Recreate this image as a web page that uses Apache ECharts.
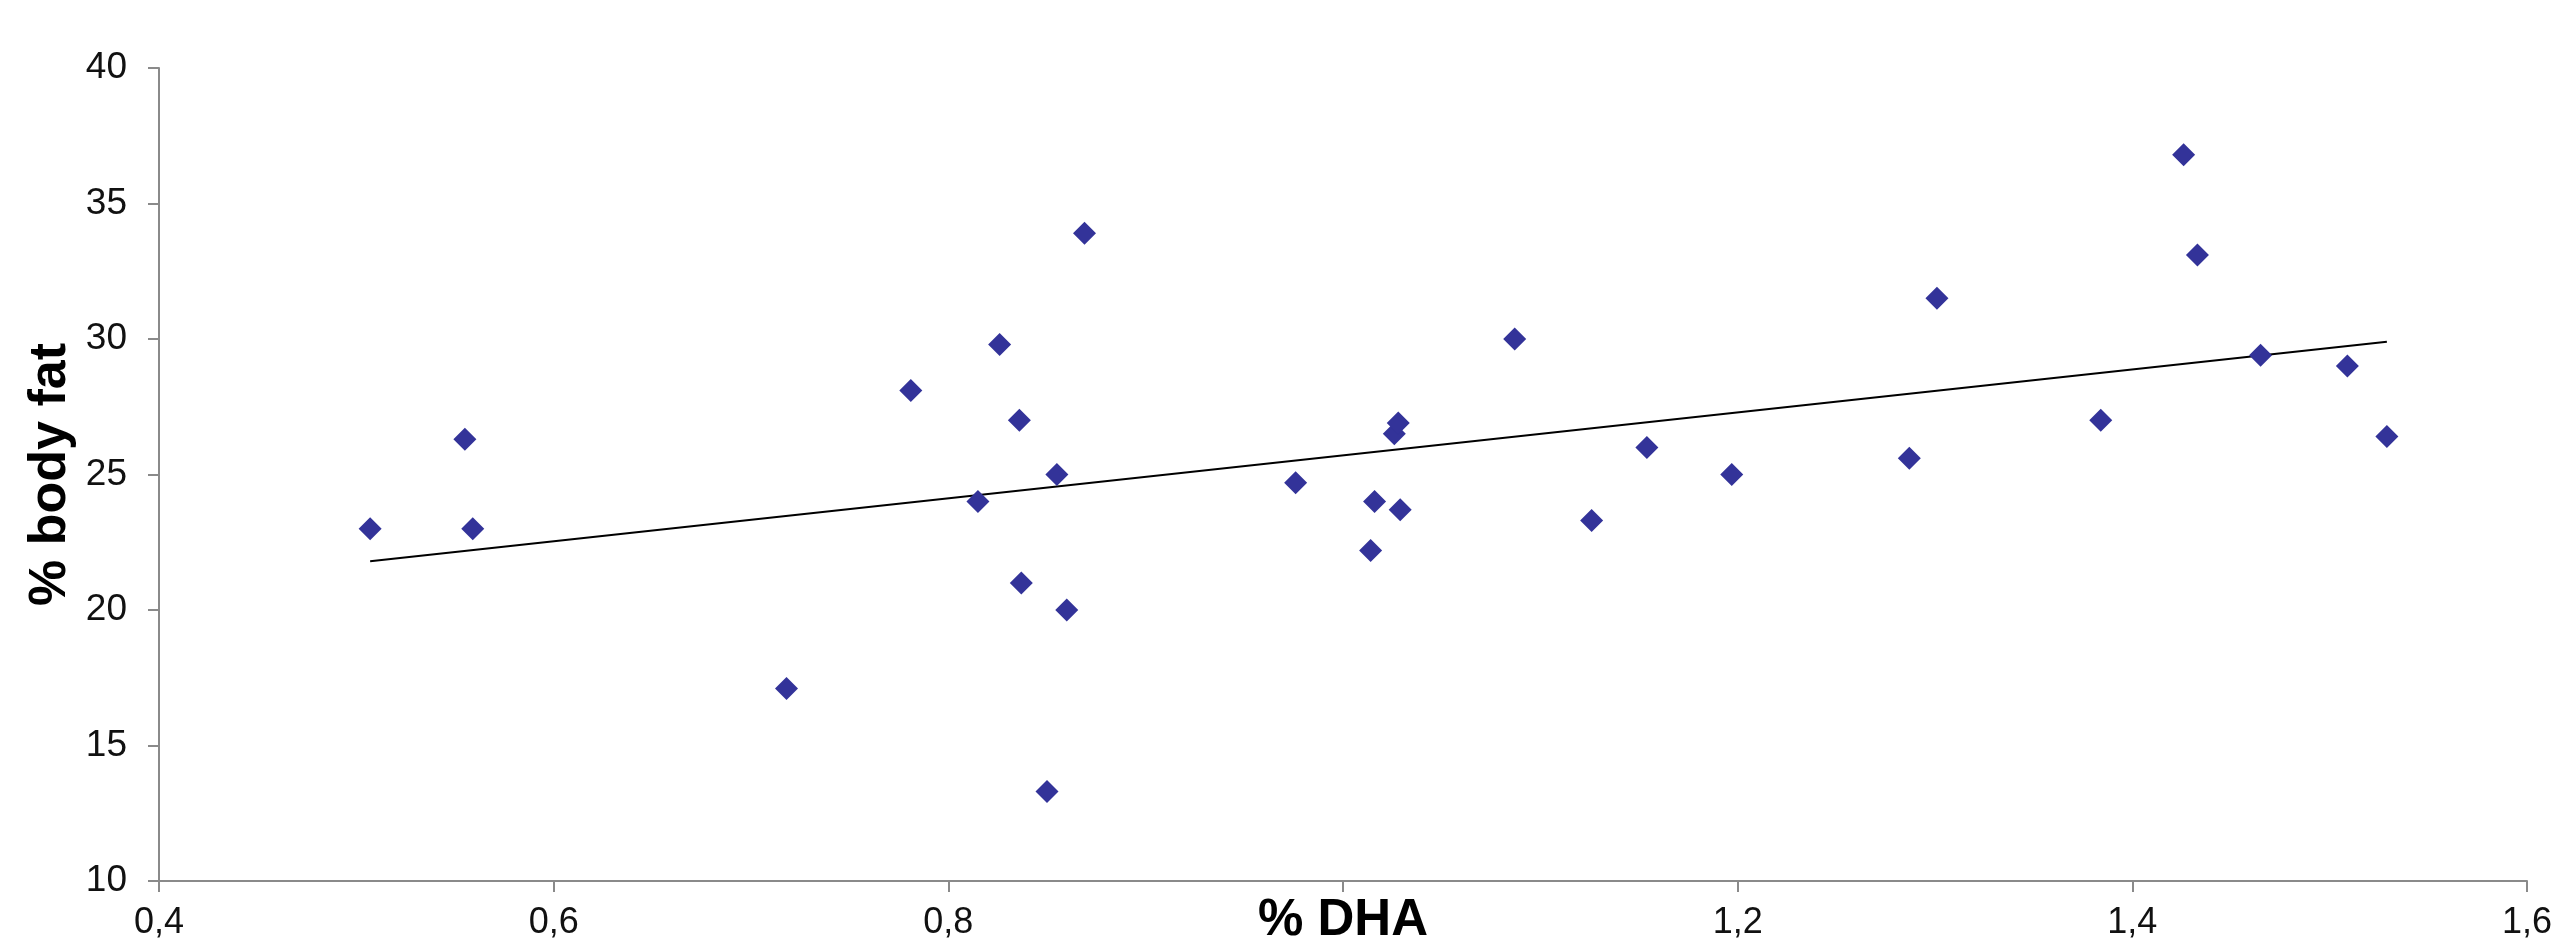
<!DOCTYPE html>
<html>
<head>
<meta charset="utf-8">
<script src="https://cdn.jsdelivr.net/npm/echarts@6/dist/echarts.min.js"></script>
<style>
html,body{margin:0;padding:0;background:#fff;}
#chart{width:2555px;height:951px;}
</style>
</head>
<body>
<div id="chart"></div>
<script>
// % DHA values
const dha = [0.507, 0.555, 0.559, 0.718, 0.781, 0.815, 0.826, 0.836, 0.837, 0.850, 0.855, 0.860, 0.869,
  0.976, 1.014, 1.016, 1.026, 1.028, 1.029, 1.087, 1.126, 1.154, 1.197, 1.287, 1.301, 1.384, 1.426,
  1.433, 1.465, 1.509, 1.529];
// % body fat values
const bodyFat = [23.0, 26.3, 23.0, 17.1, 28.1, 24.0, 29.8, 27.0, 21.0, 13.3, 25.0, 20.0, 33.9,
  24.7, 22.2, 24.0, 26.5, 26.9, 23.7, 30.0, 23.3, 26.0, 25.0, 25.6, 31.5, 27.0, 36.8,
  33.1, 29.4, 29.0, 26.4];
// trend line end points
const trendX = [0.507, 1.529];
const trendY = [21.8, 29.9];
// axis ticks
const xMin = 0.4, xMax = 1.6, xStep = 0.2;
const yMin = 10, yMax = 40, yStep = 5;
// tick label hidden under the axis title in the original
const hiddenXTick = 1.0;

const points = dha.map((x, i) => [x, bodyFat[i]]);
const trend = trendX.map((x, i) => [x, trendY[i]]);

const axisColor = '#8a8a8a';
const chart = echarts.init(document.getElementById('chart'));
chart.setOption({
  animation: false,
  backgroundColor: '#ffffff',
  grid: {left: 159, right: 17, top: 68, bottom: 69, containLabel: false},
  xAxis: {
    type: 'value', min: xMin, max: xMax, interval: xStep,
    name: '% DHA', nameLocation: 'middle', nameGap: 14, nameMoveOverlap: false,
    nameTextStyle: {fontFamily: 'Liberation Sans, Arial', fontWeight: 'bold', fontSize: 51, color: '#000'},
    axisLine: {show: true, onZero: false, lineStyle: {color: axisColor, width: 2}},
    axisTick: {show: true, length: 11, lineStyle: {color: axisColor, width: 2}},
    axisLabel: {margin: 24, fontFamily: 'Liberation Sans, Arial', fontSize: 36, color: '#111',
      formatter: v => Math.abs(v - hiddenXTick) < 1e-9 ? '' : v.toFixed(1).replace('.', ',')},
    splitLine: {show: false}
  },
  yAxis: {
    type: 'value', min: yMin, max: yMax, interval: yStep,
    name: '% body fat', nameLocation: 'middle', nameGap: 82, nameRotate: 90, nameMoveOverlap: false,
    nameTextStyle: {fontFamily: 'Liberation Sans, Arial', fontWeight: 'bold', fontSize: 52, color: '#000'},
    axisLine: {show: true, onZero: false, lineStyle: {color: axisColor, width: 2}},
    axisTick: {show: true, length: 11, lineStyle: {color: axisColor, width: 2}},
    axisLabel: {margin: 32, fontFamily: 'Liberation Sans, Arial', fontSize: 37, color: '#111'},
    splitLine: {show: false}
  },
  series: [
    {
      type: 'line', data: trend, symbol: 'none', silent: true, z: 1,
      lineStyle: {color: '#000', width: 2}
    },
    {
      type: 'scatter', data: points, symbol: 'diamond', symbolSize: 23, z: 2,
      itemStyle: {color: '#333399', opacity: 1}
    }
  ]
});
</script>
</body>
</html>
